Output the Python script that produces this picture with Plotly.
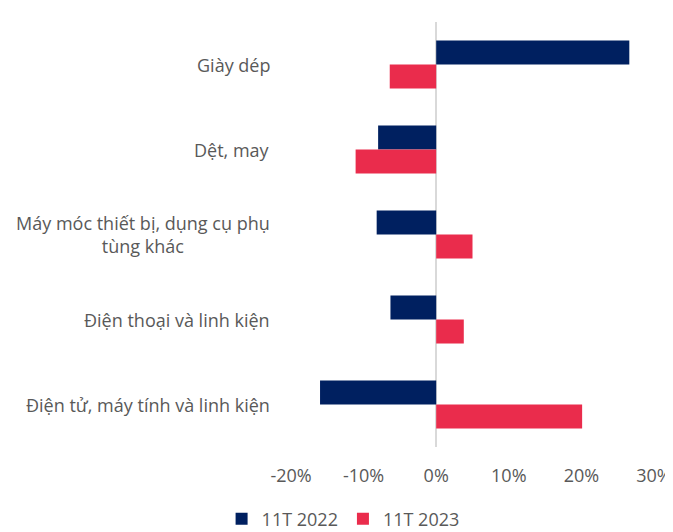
import plotly.graph_objects as go

categories = [
    "Giày dép",
    "Dệt, may",
    "Máy móc thiết bị, dụng cụ phụ<br>tùng khác",
    "Điện thoại và linh kiện",
    "Điện tử, máy tính và linh kiện",
]
cat_ids = ["c0", "c1", "c2", "c3", "c4"]
values_2022 = [0.266, -0.080, -0.082, -0.063, -0.160]
values_2023 = [-0.064, -0.111, 0.050, 0.038, 0.201]
series_names = ["11T 2022", "11T 2023"]
series_colors = ["#002060", "#EA2C4C"]
tick_vals = [-0.2, -0.1, 0.0, 0.1, 0.2, 0.3]
tick_text = ["-20%", "-10%", "0%", "10%", "20%", "30%"]

FONT = "Open Sans, sans-serif"
GRAY = "#595959"
FS = 18

fig = go.Figure()
for name, vals, col in zip(series_names, [values_2022, values_2023], series_colors):
    fig.add_trace(go.Bar(
        y=cat_ids, x=vals, name=name, orientation="h",
        marker=dict(color=col, line=dict(width=0)),
    ))

for cid, label in zip(cat_ids, categories):
    fig.add_annotation(
        x=0, xref="paper", y=cid, yref="y", text=label,
        xanchor="right", yanchor="middle", align="center", xshift=-19,
        showarrow=False, font=dict(family=FONT, size=FS, color=GRAY),
    )

fig.update_layout(
    width=664, height=524,
    margin=dict(l=283, r=18, t=14, b=85, autoexpand=False),
    paper_bgcolor="white", plot_bgcolor="white",
    barmode="group", bargap=0.435, bargroupgap=0,
    font=dict(family=FONT, size=FS, color=GRAY),
    xaxis=dict(
        range=[-0.2, 0.3], tickvals=tick_vals, ticktext=tick_text,
        showgrid=False, zeroline=True, zerolinecolor="#D9D9D9", zerolinewidth=2,
        showline=False, ticks="", ticklabelstandoff=16, automargin=False,
        tickfont=dict(family=FONT, size=FS, color=GRAY),
    ),
    yaxis=dict(
        categoryorder="array", categoryarray=cat_ids, autorange="reversed",
        showticklabels=False, showgrid=False, zeroline=False, showline=False,
        ticks="", automargin=False,
    ),
    legend=dict(
        orientation="h", x=0.1435, xanchor="center", y=-0.1694, yanchor="middle",
        font=dict(family=FONT, size=FS, color=GRAY), itemwidth=30,
        traceorder="normal",
    ),
    showlegend=True,
)

fig.write_html("out.html")
